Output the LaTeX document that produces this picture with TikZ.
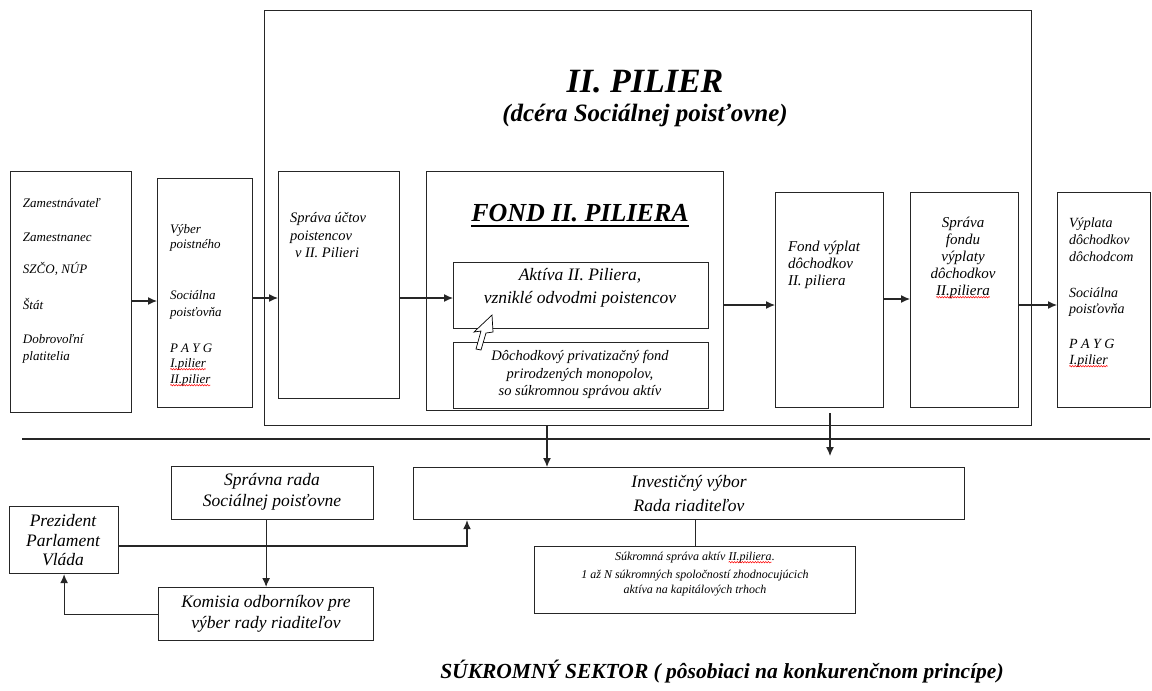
\documentclass[tikz,border=0pt]{standalone}
\usepackage{fontspec}
\setmainfont{Liberation Serif}
\usetikzlibrary{arrows.meta,decorations.pathmorphing}
\newcommand\fs[1]{\fontsize{#1}{#1}\selectfont}
\newcommand\wavyu[1]{\tikz[baseline=(w.base)]{\node[inner sep=0pt,outer sep=0pt](w){#1};\draw[red,line width=0.5pt,decorate,decoration={snake,amplitude=0.7pt,segment length=2.6pt}]([yshift=-2.2pt]w.base west)--([yshift=-2.2pt]w.base east);}}
\tikzset{
  box/.style={draw=black!85,line width=1.2pt,inner sep=0pt,anchor=north west},
  t/.style={inner sep=0pt,outer sep=0pt,font=\itshape},
  arr/.style={line width=1.2pt,draw=black!85,-{Latex[length=9pt,width=8pt]}},
  ln/.style={line width=1.2pt,draw=black!85},
}
\begin{document}
\begin{tikzpicture}[x=1pt,y=-1pt]
\useasboundingbox (0,0) rectangle (1152,691);
% boxes
\node[box,minimum width=767,minimum height=415] (big) at (264,10) {};
\node[box,minimum width=121,minimum height=241] (b1) at (10,171) {};
\node[box,minimum width=95,minimum height=229] (b2) at (157,178) {};
\node[box,minimum width=121,minimum height=227] (b3) at (278,171) {};
\node[box,minimum width=297,minimum height=239] (fond) at (426,171) {};
\node[box,minimum width=255,minimum height=66] (akt) at (453,262) {};
\node[box,minimum width=255,minimum height=66] (doch) at (453,342) {};
\node[box,minimum width=108,minimum height=215] (fv) at (775,192) {};
\node[box,minimum width=108,minimum height=215] (sf) at (910,192) {};
\node[box,minimum width=93,minimum height=215] (vy) at (1057,192) {};
\node[box,minimum width=202,minimum height=53] (sr) at (171,466) {};
\node[box,minimum width=109,minimum height=67] (pr) at (9,506) {};
\node[box,minimum width=215,minimum height=53] (ko) at (158,587) {};
\node[box,minimum width=551,minimum height=52] (inv) at (413,467) {};
\node[box,minimum width=321,minimum height=67] (su) at (534,546) {};
% helper coordinates
\coordinate (hl1) at (22,439);
\coordinate (hl2) at (1150,439);
\coordinate (y301) at (0,301);
\coordinate (y298) at (0,298);
\coordinate (y299) at (0,299);
\coordinate (y305) at (0,305);
\coordinate (y546) at (0,546);
\coordinate (x547) at (547,0);
\coordinate (x467) at (467,0);
\coordinate (fvs) at (830,413);
\coordinate (fve) at (830,456);
% separator line
\draw[ln] (hl1) -- (hl2);
% connectors
\draw[arr] (b1.east |- y301) -- (b2.west |- y301);
\draw[arr] (b2.east |- y298) -- (b3.west |- y298);
\draw[arr] (b3.east |- y298) -- (akt.west |- y298);
\draw[arr] (fond.east |- y305) -- (fv.west |- y305);
\draw[arr] (fv.east |- y299) -- (sf.west |- y299);
\draw[arr] (sf.east |- y305) -- (vy.west |- y305);
\draw[arr] (big.south -| x547) -- (inv.north -| x547);
\draw[arr] (fvs) -- (fve);
\draw[arr] (sr.south -| ko.north) -- (ko.north);
\draw[arr] (pr.east |- y546) -| (inv.south -| x467);
\draw[arr] (ko.west) -| (pr.south);
\draw[ln] (inv.south -| su.north) -- (su.north);
% cursor
\draw[line width=0.7pt,fill=white] (492,315) -- (474,332) -- (481,331) -- (476,349) -- (481,350) -- (486,333) -- (493,332) -- cycle;
% titles
\node[t,anchor=base,font=\bfseries\itshape\fs{34}] (title) at (645,92) {II. PILIER};
\node[t,anchor=base,font=\bfseries\itshape\fs{25}] (subtitle) at (645,121) {(dcéra Sociálnej poisťovne)};
\node[t,anchor=base,font=\bfseries\itshape\fs{26}] (fondt) at (580,221) {FOND II. PILIERA};
\draw[line width=1.6pt] ([yshift=-5pt]fondt.base west) -- ([yshift=-5pt]fondt.base east);
% box 1
\node[t,anchor=base west,font=\itshape\fs{13}] (b1a) at (23,207) {Zamestnávateľ};
\node[t,anchor=base west,font=\itshape\fs{13}] (b1b) at (23,241) {Zamestnanec};
\node[t,anchor=base west,font=\itshape\fs{13}] (b1c) at (23,273) {SZČO, NÚP};
\node[t,anchor=base west,font=\itshape\fs{13}] (b1d) at (23,309) {Štát};
\node[t,anchor=base west,font=\itshape\fs{13}] (b1e) at (23,343) {Dobrovoľní};
\node[t,anchor=base west,font=\itshape\fs{13}] (b1f) at (23,360) {platitelia};
% box 2
\node[t,anchor=base west,font=\itshape\fs{13}] (b2a) at (170,233) {Výber};
\node[t,anchor=base west,font=\itshape\fs{13}] (b2b) at (170,248) {poistného};
\node[t,anchor=base west,font=\itshape\fs{13}] (b2c) at (170,299) {Sociálna};
\node[t,anchor=base west,font=\itshape\fs{13}] (b2d) at (170,316) {poisťovňa};
\node[t,anchor=base west,font=\itshape\fs{13}] (b2e) at (170,352) {P A Y G};
\node[t,anchor=base west,font=\itshape\fs{13}] (b2f) at (170,367) {\wavyu{I.pilier}};
\node[t,anchor=base west,font=\itshape\fs{13}] (b2g) at (170,383) {\wavyu{II.pilier}};
% box 3
\node[t,anchor=base west,font=\itshape\fs{14.5}] (b3a) at (290,222) {Správa účtov};
\node[t,anchor=base west,font=\itshape\fs{14.5}] (b3b) at (290,240) {poistencov};
\node[t,anchor=base west,font=\itshape\fs{14.5}] (b3c) at (295,257) {v II. Pilieri};
% fond inner
\node[t,anchor=base,font=\itshape\fs{17.5}] (akta) at (580,280) {Aktíva II. Piliera,};
\node[t,anchor=base,font=\itshape\fs{17.5}] (aktb) at (580,303) {vzniklé odvodmi poistencov};
\node[t,anchor=base,font=\itshape\fs{14.5}] (docha) at (580,360) {Dôchodkový privatizačný fond};
\node[t,anchor=base,font=\itshape\fs{14.5}] (dochb) at (580,378) {prirodzených monopolov,};
\node[t,anchor=base,font=\itshape\fs{14.5}] (dochc) at (580,395) {so súkromnou správou aktív};
% fond vyplat
\node[t,anchor=base west,font=\itshape\fs{15}] (fva) at (788,251) {Fond výplat};
\node[t,anchor=base west,font=\itshape\fs{15}] (fvb) at (788,268) {dôchodkov};
\node[t,anchor=base west,font=\itshape\fs{15}] (fvc) at (788,285) {II. piliera};
% sprava fondu
\node[t,anchor=base,font=\itshape\fs{15}] (sfa) at (963,227) {Správa};
\node[t,anchor=base,font=\itshape\fs{15}] (sfb) at (963,244) {fondu};
\node[t,anchor=base,font=\itshape\fs{15}] (sfc) at (963,261) {výplaty};
\node[t,anchor=base,font=\itshape\fs{15}] (sfd) at (963,278) {dôchodkov};
\node[t,anchor=base,font=\itshape\fs{15}] (sfe) at (963,295) {\wavyu{II.piliera}};
% vyplata
\node[t,anchor=base west,font=\itshape\fs{14}] (vya) at (1069,227) {Výplata};
\node[t,anchor=base west,font=\itshape\fs{14}] (vyb) at (1069,244) {dôchodkov};
\node[t,anchor=base west,font=\itshape\fs{14}] (vyc) at (1069,261) {dôchodcom};
\node[t,anchor=base west,font=\itshape\fs{14}] (vyd) at (1069,297) {Sociálna};
\node[t,anchor=base west,font=\itshape\fs{14}] (vye) at (1069,313) {poisťovňa};
\node[t,anchor=base west,font=\itshape\fs{14}] (vyf) at (1069,348) {P A Y G};
\node[t,anchor=base west,font=\itshape\fs{14}] (vyg) at (1069,364) {\wavyu{I.pilier}};
% bottom boxes
\node[t,anchor=base,font=\itshape\fs{17.5}] (sra) at (272,485) {Správna rada};
\node[t,anchor=base,font=\itshape\fs{17.5}] (srb) at (272,506) {Sociálnej poisťovne};
\node[t,anchor=base,font=\itshape\fs{17.5}] (pra) at (63,526) {Prezident};
\node[t,anchor=base,font=\itshape\fs{17.5}] (prb) at (63,546) {Parlament};
\node[t,anchor=base,font=\itshape\fs{17.5}] (prc) at (63,565) {Vláda};
\node[t,anchor=base,font=\itshape\fs{17.5}] (koa) at (266,607) {Komisia odborníkov pre};
\node[t,anchor=base,font=\itshape\fs{17.5}] (kob) at (266,628) {výber rady riaditeľov};
\node[t,anchor=base,font=\itshape\fs{17.5}] (inva) at (689,487) {Investičný výbor};
\node[t,anchor=base,font=\itshape\fs{17.5}] (invb) at (689,511) {Rada riaditeľov};
\node[t,anchor=base,font=\itshape\fs{12}] (sua) at (695,560) {Súkromná správa aktív \wavyu{II.piliera}.};
\node[t,anchor=base,font=\itshape\fs{12}] (sub) at (695,578) {1 až N súkromných spoločností zhodnocujúcich};
\node[t,anchor=base,font=\itshape\fs{12}] (suc) at (695,593) {aktíva na kapitálových trhoch};
\node[t,anchor=base,font=\bfseries\itshape\fs{21.5}] (sektor) at (722,678) {SÚKROMNÝ SEKTOR ( pôsobiaci na konkurenčnom princípe)};
\end{tikzpicture}
\end{document}
